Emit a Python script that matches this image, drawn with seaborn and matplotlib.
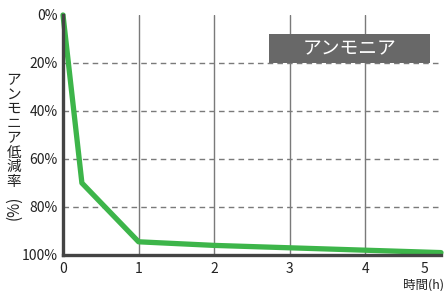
import matplotlib

matplotlib.use('Agg')
import matplotlib.pyplot as plt
import matplotlib.transforms as mtransforms
import pandas as pd
import seaborn as sns
from matplotlib.patches import Rectangle

# data
hours = [0, 0.25, 1, 2, 3, 4, 5]
reduction = [0, 70, 94.5, 96, 97, 98, 99]
x_ticks = [0, 1, 2, 3, 4, 5]
y_ticks = [0, 20, 40, 60, 80, 100]
y_ticklabels = ['0%', '20%', '40%', '60%', '80%', '100%']
title_text = 'アンモニア'
y_label_chars = 'アンモニア低減率'
y_label_unit = '(%)'
x_label = '時間(h)'

sns.set_style('white')
plt.rcParams['font.family'] = ['Noto Sans CJK JP', 'DejaVu Sans']

df = pd.DataFrame({'hours': hours, 'reduction': reduction})

fig = plt.figure(figsize=(4.44, 2.91), dpi=100)
ax = fig.add_axes([63 / 444, 1 - 255 / 291, (441 - 63) / 444, (255 - 15) / 291])

grid_col = '#7a7a7a'
for v in x_ticks[1:-1]:
    ax.axvline(v, color=grid_col, lw=1.0, zorder=1)
for v in y_ticks[1:-1]:
    ax.axhline(v, color=grid_col, lw=1.0, ls=(0, (4, 3)), zorder=1)

sns.lineplot(data=df, x='hours', y='reduction', ax=ax, color='#3db54a',
             lw=3.8, zorder=3, clip_on=False)

ax.set_xlim(0, 5)
ax.set_ylim(100, 0)
ax.set_xticks(x_ticks)
ax.set_xticklabels([str(t) for t in x_ticks])
ax.set_yticks(y_ticks)
ax.set_yticklabels(y_ticklabels)
ax.set_xlabel('')
ax.set_ylabel('')
ax.tick_params(axis='both', length=0, labelsize=10, colors='#222222')
ax.tick_params(axis='x', pad=5)
ax.tick_params(axis='y', pad=4)

for side in ['top', 'right']:
    ax.spines[side].set_visible(False)
for side in ['left', 'bottom']:
    ax.spines[side].set_color('#444444')
    ax.spines[side].set_linewidth(2.4)
    ax.spines[side].set_zorder(4)

# last x tick label sits a bit to the left in the reference
last = ax.get_xticklabels()[-1]
last.set_transform(last.get_transform() + mtransforms.ScaledTranslation(-17 / 100, 0, fig.dpi_scale_trans))

# title box
fig.patches.append(Rectangle((269 / 444, 1 - 63 / 291), 161 / 444, 29 / 291,
                             transform=fig.transFigure, facecolor='#686868',
                             edgecolor='none', zorder=5))
fig.text(349.5 / 444, 1 - 49 / 291, title_text, color='white', fontsize=13.5,
         ha='center', va='center', zorder=6)

# vertical y label: upright characters plus rotated unit
fig.text(14 / 444, 1 - 131 / 291, '\n'.join(y_label_chars), fontsize=10.5,
         ha='center', va='center', linespacing=1.05, color='#222222')
fig.text(14 / 444, 1 - 208 / 291, y_label_unit, fontsize=11, rotation=90,
         ha='center', va='center', color='#222222')

fig.text(423 / 444, 1 - 285 / 291, x_label, fontsize=9, ha='center',
         va='center', color='#222222')

fig.savefig('out.png', dpi=100)
plt.close(fig)
